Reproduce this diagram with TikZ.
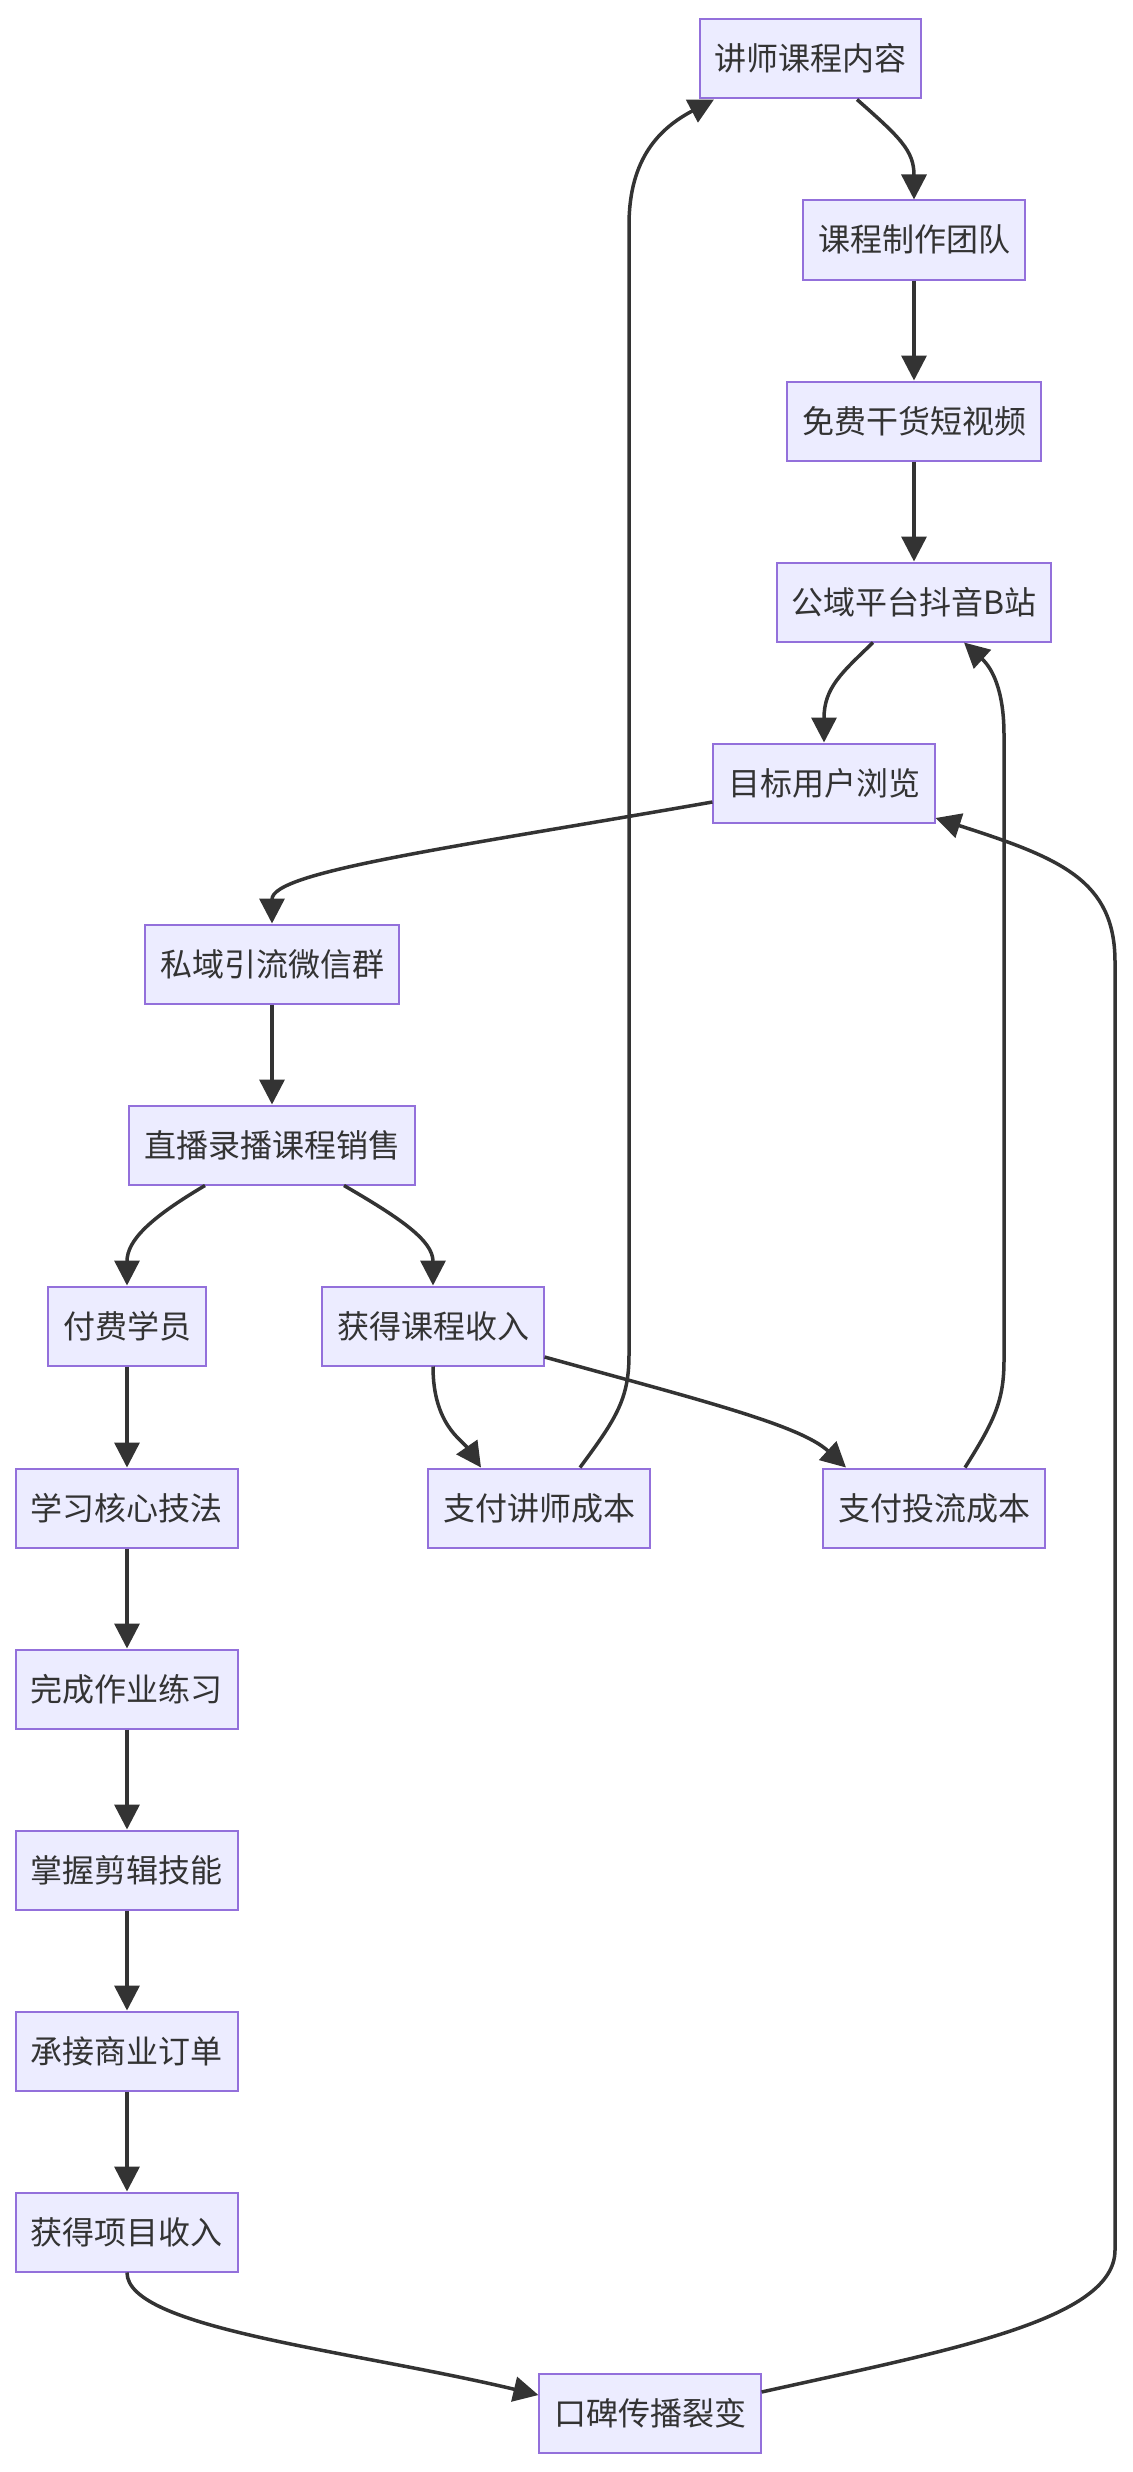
\documentclass[tikz,border=0pt]{standalone}
\usepackage{fontspec}
\newfontfamily\cjk{Noto Sans CJK SC}
\usetikzlibrary{arrows.meta,calc}
\definecolor{nodefill}{HTML}{ECECFF}
\definecolor{nodeline}{HTML}{9370DB}
\definecolor{edgecol}{HTML}{333333}
\begin{document}
\begin{tikzpicture}[x=0.5pt,y=-0.5pt,
 box/.style={draw=nodeline, fill=nodefill, line width=1pt, minimum height=39.5pt,
   inner xsep=7.3pt, inner ysep=0pt, text height=14pt, text depth=2pt,
   font=\cjk\fontsize{16pt}{19pt}\selectfont, text=edgecol},
 edge/.style={draw=edgecol, line width=1.75pt, -{Triangle[length=12.5pt,width=12.5pt]}}]
\useasboundingbox (0,0) rectangle (1132,2472);

\node[box] (A) at (810.5,59) {讲师课程内容};
\node[box] (B) at (914,240) {课程制作团队};
\node[box] (C) at (914,421) {免费干货短视频};
\node[box] (D) at (914,602) {公域平台抖音B站};
\node[box] (E) at (824,783) {目标用户浏览};
\node[box] (F) at (272,964) {私域引流微信群};
\node[box] (G) at (272,1145) {直播录播课程销售};
\node[box] (H) at (127,1326) {付费学员};
\node[box] (I) at (433,1326) {获得课程收入};
\node[box] (J) at (127,1508) {学习核心技法};
\node[box] (K) at (539,1508) {支付讲师成本};
\node[box] (L) at (934,1508) {支付投流成本};
\node[box] (M) at (127,1689) {完成作业练习};
\node[box] (N) at (127,1870) {掌握剪辑技能};
\node[box] (O) at (127,2051) {承接商业订单};
\node[box] (P) at (127,2232) {获得项目收入};
\node[box] (Q) at (650,2413) {口碑传播裂变};

% A -> B
\draw[edge] ($(A.south)+(46.5,0)$) .. controls ($(A.south)+(89.5,38)$) and ($(B.north)+(0,-49)$) .. (B.north);
\draw[edge] (B) -- (C);
\draw[edge] (C) -- (D);
% D -> E
\draw[edge] ($(D.south)+(-41,0)$) .. controls ($(D.south)+(-72,30)$) and ($(E.north)+(0,-55)$) .. (E.north);
% E -> F
\draw[edge] ($(E.west)+(0,19)$) .. controls (450,848) and ($(F.north)+(0,-52)$) .. (F.north);
\draw[edge] (F) -- (G);
% G -> H, G -> I
\draw[edge] ($(G.south)+(-67,0)$) .. controls (150,1218) and ($(H.north)+(0,-45)$) .. (H.north);
\draw[edge] ($(G.south)+(72,0)$) .. controls (400,1218) and ($(I.north)+(0,-45)$) .. (I.north);
\draw[edge] (H) -- (J);
% I -> K, I -> L
\draw[edge] (I.south) .. controls ($(I.south)+(0,58)$) and (462,1440) .. ($(K.north)+(-58,0)$);
\draw[edge] ($(I.east)+(0,31)$) .. controls (700,1400) and (800,1425) .. ($(L.north)+(-88,0)$);
% K -> A
\draw[edge] ($(K.north)+(41,0)$) .. controls (615,1420) and (629,1400) .. (629,1355)
  -- (629,225) .. controls (629,158) and (660,128) .. ($(A.south)+(-96.5,0)$);
% L -> D
\draw[edge] ($(L.north)+(31,0)$) .. controls (995,1420) and (1004,1400) .. (1004,1360)
  -- (1004,735) .. controls (1004,690) and (992,668) .. ($(D.south)+(50,0)$);
\draw[edge] (J) -- (M);
\draw[edge] (M) -- (N);
\draw[edge] (N) -- (O);
\draw[edge] (O) -- (P);
% P -> Q
\draw[edge] (P.south) .. controls ($(P.south)+(0,56)$) and (350,2350) .. ($(Q.west)+(0,-18)$);
% Q -> E
\draw[edge] ($(Q.east)+(0,-21)$) .. controls (950,2350) and (1115,2320) .. (1115,2250)
  -- (1115,962) .. controls (1115,880) and (1060,858) .. ($(E.east)+(0,35)$);
\end{tikzpicture}
\end{document}
